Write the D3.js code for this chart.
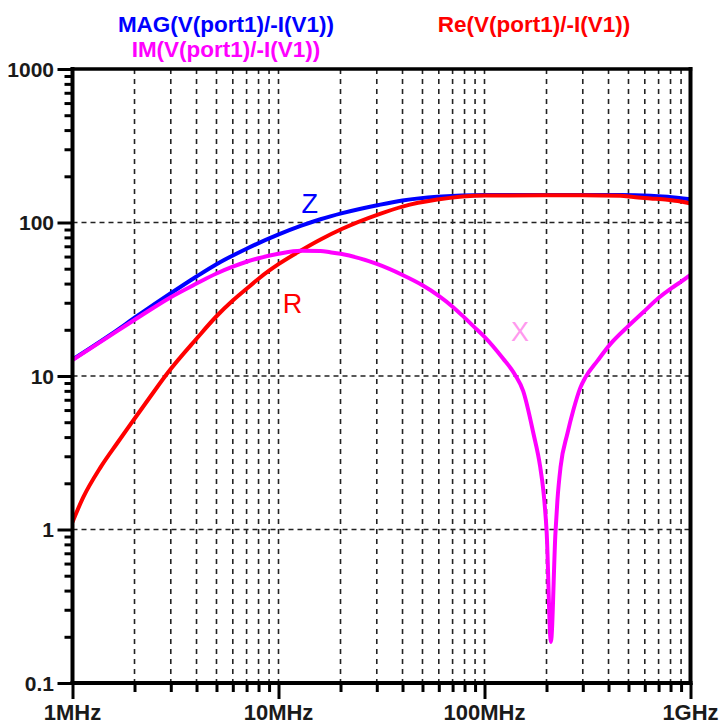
<!DOCTYPE html>
<html><head><meta charset="utf-8">
<script src="https://cdn.jsdelivr.net/npm/d3@7"></script>
<style>
body{margin:0;background:#fff;}
svg{display:block;}
text{font-family:"Liberation Sans",Arial,sans-serif;}
</style>
</head><body>
<svg id="c" width="720" height="725"></svg>
<script>
// ---- data (frequency in MHz, impedance in ohms) ----
const zFreqMHz = [1, 1.53, 2.07, 3, 4, 5, 7, 9.89, 12.8, 16, 20.4, 30.6, 40, 59, 101, 200, 300, 457, 640, 773, 1000];
const zMag     = [12.8, 18.6, 24.7, 34.6, 44.5, 53.5, 67.5, 83, 95, 105, 115, 130, 139, 147, 150.8, 150.8, 150.8, 150.8, 149.5, 147, 141.6];

const rFreqMHz = [1, 1.13, 1.37, 1.65, 1.98, 2.38, 2.9, 4, 5, 6, 7, 8, 9, 10, 12.8, 16, 20.4, 30.6, 40, 59, 101, 200, 300, 457, 529, 640, 773, 894, 1000];
const rRe      = [1.12, 1.63, 2.55, 3.66, 5.17, 7.3, 10.5, 17.5, 24.5, 31, 37, 43, 48.5, 53.5, 65.5, 77.5, 91, 113, 127, 141, 150, 150.5, 150.5, 149.6, 146.5, 143.5, 140.5, 137, 133];

const xFreqMHz = [1, 1.53, 2.13, 3, 4, 5, 6, 7, 8, 10, 12.8, 16, 17.8, 20, 30, 40, 50, 60, 70, 80, 90, 100, 123, 140.6, 154, 172.6, 186, 193, 200.4, 210, 221, 226, 234, 253, 270, 292, 309, 354, 409, 500, 591, 699, 809, 894, 1000];
const xIm      = [12.7, 18.4, 24.5, 32.6, 40, 46.5, 51.5, 55.5, 58.5, 62.5, 65.5, 65.2, 64, 62.5, 53.7, 45.5, 39, 33.3, 28.3, 24, 20.6, 18, 13, 10.2, 8.0, 4.25, 2.6, 1.8, 0.95, 0.185, 0.95, 1.56, 2.55, 4.25, 6.0, 8.4, 9.8, 12.6, 16.2, 21.2, 26.1, 32.2, 37.4, 40.9, 45.5];

const xTickValues = [1e6, 1e7, 1e8, 1e9];
const xTickLabels = ["1MHz", "10MHz", "100MHz", "1GHz"];
const yTickValues = [0.1, 1, 10, 100, 1000];
const yTickLabels = ["0.1", "1", "10", "100", "1000"];

const titles = [
  {text: "MAG(V(port1)/-I(V1))", color: "#0000ff", cx: 226, by: 32},
  {text: "IM(V(port1)/-I(V1))",  color: "#ff00ff", cx: 226, by: 57},
  {text: "Re(V(port1)/-I(V1))",  color: "#ff0000", cx: 534, by: 32}
];

// ---- scales ----
const L = 72.5, R = 690.5, T = 69, B = 683;
const x = d3.scaleLog().domain([1e6, 1e9]).range([L, R]);
const y = d3.scaleLog().domain([0.1, 1000]).range([B, T]);

const svg = d3.select("#c");

// grid
const xMinor = x.ticks().filter(d => !xTickValues.includes(d));
const xGrid = x.ticks().filter(d => d > 1e6 && d < 1e9);
const yMinor = y.ticks().filter(d => !yTickValues.includes(d));

svg.append("g").selectAll("line").data(xGrid).join("line")
  .attr("x1", d => x(d)).attr("x2", d => x(d))
  .attr("y1", T).attr("y2", B)
  .attr("stroke", "#222").attr("stroke-width", 1.6).attr("stroke-dasharray", "5,5");
svg.append("g").selectAll("line").data([1, 10, 100]).join("line")
  .attr("x1", L).attr("x2", R)
  .attr("y1", d => y(d)).attr("y2", d => y(d))
  .attr("stroke", "#222").attr("stroke-width", 1.6).attr("stroke-dasharray", "5,4");

// axes ticks
function styleAxis(g) {
  g.select(".domain").remove();
  g.selectAll(".tick line").attr("stroke", "#000").attr("stroke-width", 3);
}
svg.append("g").attr("transform", `translate(0,${B})`)
  .call(d3.axisBottom(x).tickValues(xMinor).tickSize(9).tickFormat(""))
  .call(styleAxis);
svg.append("g").attr("transform", `translate(0,${B})`)
  .call(d3.axisBottom(x).tickValues(xTickValues).tickSize(16).tickFormat(""))
  .call(styleAxis);
svg.append("g").attr("transform", `translate(${L},0)`)
  .call(d3.axisLeft(y).tickValues(yMinor).tickSize(8).tickFormat(""))
  .call(styleAxis);
svg.append("g").attr("transform", `translate(${L},0)`)
  .call(d3.axisLeft(y).tickValues(yTickValues).tickSize(15).tickFormat(""))
  .call(styleAxis);

// tick labels
svg.append("g").selectAll("text").data(xTickValues).join("text")
  .attr("x", d => x(d)).attr("y", 720)
  .attr("text-anchor", "middle")
  .attr("font-size", 22).attr("font-weight", "bold").attr("fill", "#1a1a1a")
  .text((d, i) => xTickLabels[i]);
svg.append("g").selectAll("text").data(yTickValues).join("text")
  .attr("x", 54).attr("y", d => y(d) + 7.5)
  .attr("text-anchor", "end")
  .attr("font-size", 21).attr("font-weight", "bold").attr("fill", "#1a1a1a")
  .text((d, i) => yTickLabels[i]);

// curves
svg.append("clipPath").attr("id", "clip").append("rect")
  .attr("x", L).attr("y", T - 2).attr("width", R - L).attr("height", B - T + 2);

const line = d3.line()
  .x(d => x(d[0] * 1e6)).y(d => y(d[1]))
  .curve(d3.curveMonotoneX);

const series = [
  {f: zFreqMHz, v: zMag, color: "#0000ff"},
  {f: rFreqMHz, v: rRe,  color: "#ff0000"},
  {f: xFreqMHz, v: xIm,  color: "#ff00ff"}
];
const cg = svg.append("g").attr("clip-path", "url(#clip)");
series.forEach(s => {
  cg.append("path")
    .attr("d", line(s.f.map((f, i) => [f, s.v[i]])))
    .attr("fill", "none").attr("stroke", s.color)
    .attr("stroke-width", 4).attr("stroke-linejoin", "round").attr("stroke-linecap", "round");
});

// frame
const frame = svg.append("g").attr("stroke", "#000").attr("stroke-linecap", "square");
frame.append("line").attr("x1", L).attr("x2", R).attr("y1", T).attr("y2", T).attr("stroke-width", 3.5);
frame.append("line").attr("x1", R).attr("x2", R).attr("y1", T).attr("y2", B).attr("stroke-width", 4);
frame.append("line").attr("x1", L).attr("x2", L).attr("y1", T).attr("y2", B).attr("stroke-width", 4);
frame.append("line").attr("x1", L).attr("x2", R).attr("y1", B).attr("y2", B).attr("stroke-width", 4);

// titles
svg.append("g").selectAll("text").data(titles).join("text")
  .attr("x", d => d.cx).attr("y", d => d.by)
  .attr("text-anchor", "middle")
  .attr("font-size", 22.5).attr("font-weight", "bold")
  .attr("fill", d => d.color)
  .text(d => d.text);

// curve annotations
const notes = [
  {t: "Z", f: 14.2e6, v: 115, color: "#0000ff"},
  {t: "R", f: 11.7e6, v: 25.7, color: "#ff0000"},
  {t: "X", f: 148.7e6, v: 16.9, color: "#ff99ee"}
];
svg.append("g").selectAll("text").data(notes).join("text")
  .attr("x", d => x(d.f)).attr("y", d => y(d.v))
  .attr("text-anchor", "middle")
  .attr("font-size", 27)
  .attr("fill", d => d.color)
  .text(d => d.t);
</script>
</body></html>
